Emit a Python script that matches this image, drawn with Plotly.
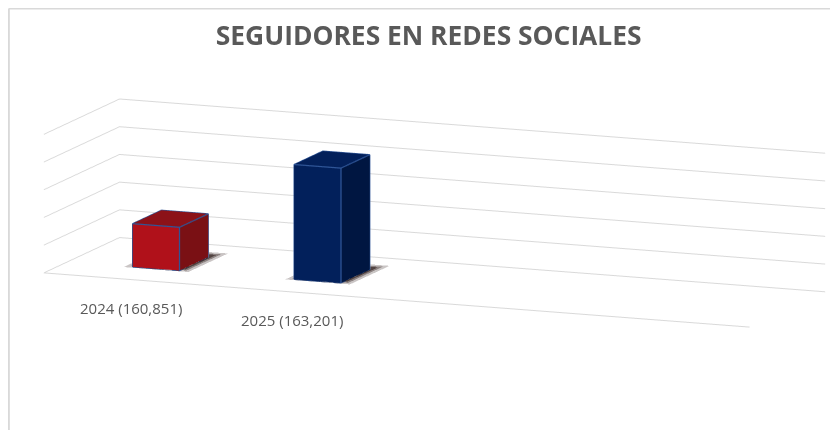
import plotly.graph_objects as go

# ---- data ----
categories = ["2024 (160,851)", "2025 (163,201)"]
values = [160851, 163201]
front_colors = ["#B0111A", "#02205B"]
side_colors = ["#7A1014", "#001641"]
top_colors = ["#8C1218", "#03205A"]
edge_color = "#2F5597"
shadow_color = "#2B1A17"

z_min, z_step, n_steps = 159430, 910, 5
z_max = z_min + z_step * n_steps
x_range = [-0.55, 3.82]
y_range = [-1.0, 1.0]
bar_w = 0.29
bar_d = 0.76

fig = go.Figure()

# soft floor shadows (layered translucent rectangles around each bar footprint)
for i, v in enumerate(values):
    for grow, op in [(1.38, 0.25), (1.2, 0.4), (1.07, 0.6)]:
        hx = bar_w / 2 * grow
        hy = bar_d / 2 * grow
        cx, cy = i + 0.01, 0.1
        zz = z_min + 5
        fig.add_trace(go.Mesh3d(
            x=[cx - hx, cx + hx, cx + hx, cx - hx],
            y=[cy - hy, cy - hy, cy + hy, cy + hy],
            z=[zz, zz, zz, zz],
            i=[0, 0], j=[1, 2], k=[2, 3],
            color=shadow_color, opacity=op, flatshading=True,
            lighting=dict(ambient=1, diffuse=0, specular=0, roughness=1, fresnel=0),
            hoverinfo="skip", showscale=False,
        ))

for i, (cat, v) in enumerate(zip(categories, values)):
    x0, x1 = i - bar_w / 2, i + bar_w / 2
    y0, y1 = -bar_d / 2, bar_d / 2
    z0, z1 = z_min, v
    xs = [x0, x1, x1, x0, x0, x1, x1, x0]
    ys = [y0, y0, y1, y1, y0, y0, y1, y1]
    zs = [z0, z0, z0, z0, z1, z1, z1, z1]
    faces = [
        (0, 1, 5, "f"), (0, 5, 4, "f"),
        (1, 2, 6, "s"), (1, 6, 5, "s"),
        (4, 5, 6, "t"), (4, 6, 7, "t"),
        (3, 2, 6, "s"), (3, 6, 7, "s"),
        (0, 3, 7, "s"), (0, 7, 4, "s"),
        (0, 1, 2, "s"), (0, 2, 3, "s"),
    ]
    cmap = {"f": front_colors[i], "s": side_colors[i], "t": top_colors[i]}
    fig.add_trace(go.Mesh3d(
        x=xs, y=ys, z=zs,
        i=[f[0] for f in faces], j=[f[1] for f in faces], k=[f[2] for f in faces],
        facecolor=[cmap[f[3]] for f in faces],
        flatshading=True,
        lighting=dict(ambient=1, diffuse=0, specular=0, roughness=1, fresnel=0),
        hoverinfo="skip", showscale=False,
    ))
    order = [0, 1, 5, 4, 0, None, 1, 2, 6, 5, None, 4, 7, 6]
    fig.add_trace(go.Scatter3d(
        x=[xs[k] if k is not None else None for k in order],
        y=[ys[k] if k is not None else None for k in order],
        z=[zs[k] if k is not None else None for k in order],
        mode="lines", line=dict(color=edge_color, width=2.5),
        hoverinfo="skip", showlegend=False,
    ))

label_annotations = [
    dict(x=i, y=y_range[0], z=z_min, text=cat, showarrow=False,
         xanchor="center", yanchor="middle", xshift=-2, yshift=-28,
         font=dict(family="Open Sans", size=15, color="#595959"))
    for i, cat in enumerate(categories)
]

axis_common = dict(showbackground=False, zeroline=False, showspikes=False,
                   title=dict(text=""), ticks="")

fig.update_layout(
    width=838, height=430,
    paper_bgcolor="white",
    margin=dict(l=0, r=0, t=0, b=0),
    showlegend=False,
    title=dict(text="<b>SEGUIDORES EN REDES SOCIALES</b>", x=0.502, xanchor="center",
               y=0.935, yanchor="middle",
               font=dict(family="Open Sans", size=26.4, color="#595959")),
    scene=dict(
        domain=dict(x=[0.018, 1], y=[0.034, 1]),
        xaxis=dict(range=x_range, showgrid=False, showline=True, linecolor="#D9D9D9",
                   linewidth=2, showticklabels=False, **axis_common),
        yaxis=dict(range=y_range, showgrid=False, showline=False, showticklabels=False,
                   **axis_common),
        zaxis=dict(range=[z_min, z_max], tick0=z_min, dtick=z_step, showgrid=True,
                   gridcolor="#D9D9D9", gridwidth=2, showline=False,
                   showticklabels=False, **axis_common),
        aspectmode="manual", aspectratio=dict(x=3.67, y=0.97, z=0.68),
        camera=dict(eye=dict(x=0.686, y=-1.691, z=0.340), center=dict(x=0, y=0, z=-0.012),
                    projection=dict(type="orthographic")),
        annotations=label_annotations,
    ),
    shapes=[
        dict(type="line", xref="paper", yref="paper", x0=0.001, x1=1.0, y0=0.999, y1=0.999,
             line=dict(color="#D9D9D9", width=2)),
        dict(type="line", xref="paper", yref="paper", x0=0.001, x1=0.001, y0=0.0, y1=0.999,
             line=dict(color="#D9D9D9", width=2)),
    ],
)

fig.write_html("out.html")
